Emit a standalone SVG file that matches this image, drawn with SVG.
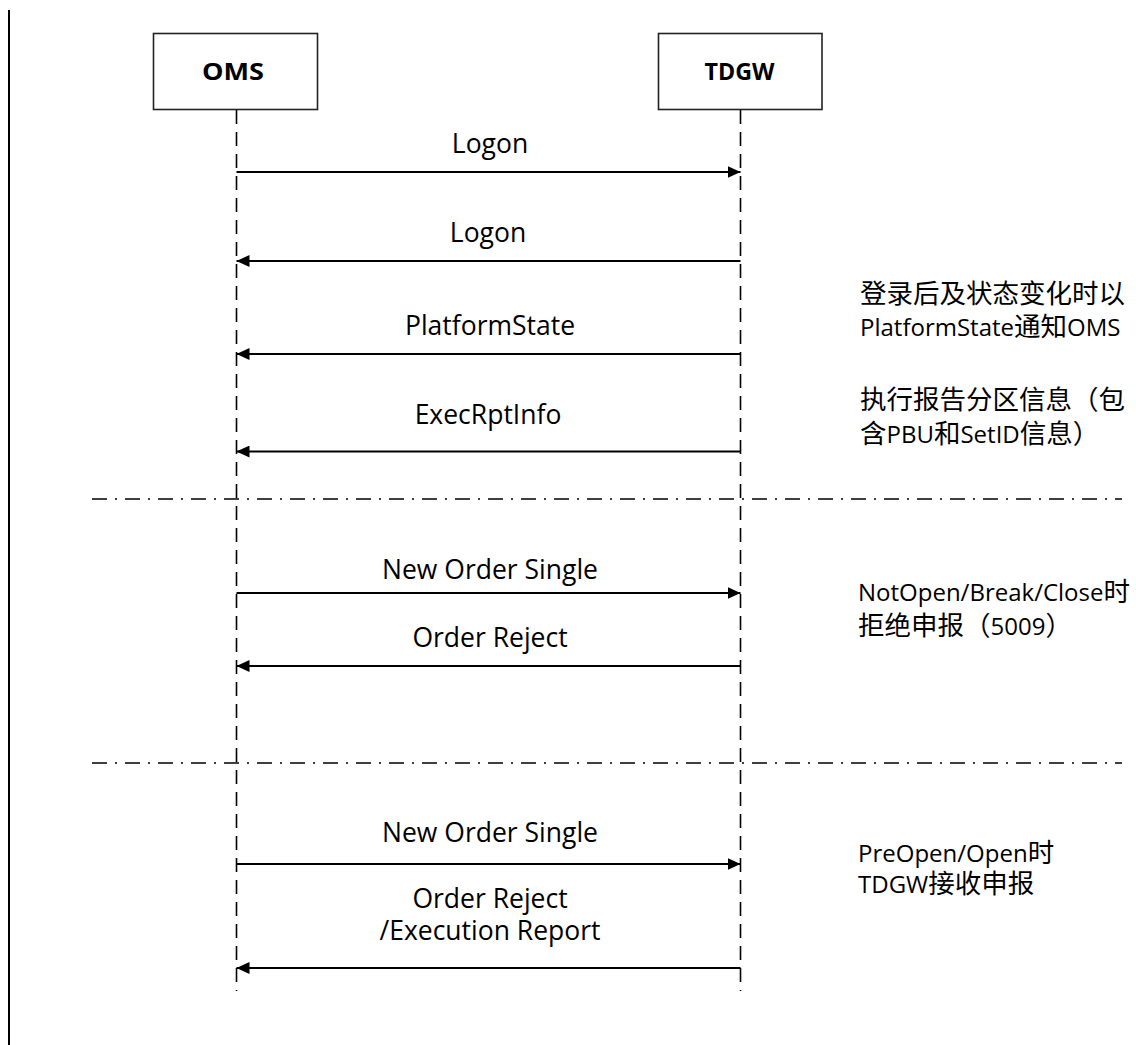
<svg xmlns="http://www.w3.org/2000/svg" width="1136" height="1045" viewBox="0 0 1136 1045">
<style>
.box{fill:#fff;stroke:#222;stroke-width:1.6}
.title{font-family:"Open Sans","Liberation Sans",sans-serif;font-weight:bold;font-size:23px;fill:#000;text-anchor:middle}
.life{stroke:#000;stroke-width:1.6;stroke-dasharray:14 8;fill:none}
.sep{stroke:#000;stroke-width:1.6;stroke-dasharray:15 8 2 8;fill:none}
.msg{stroke:#000;stroke-width:2;fill:none;marker-end:url(#ah)}
.lbl{font-family:"Open Sans","Liberation Sans",sans-serif;font-size:26.5px;fill:#000;text-anchor:middle}
.note{font-family:"Open Sans","Noto Sans CJK SC",sans-serif;font-size:24px;fill:#000}
.cjk{font-family:"Noto Sans CJK SC",sans-serif;font-size:26.5px}
</style>
<defs>
<marker id="ah" markerUnits="userSpaceOnUse" markerWidth="13" markerHeight="12" refX="13" refY="6" orient="auto">
<path d="M0,0 L13,6 L0,12 z" fill="#000"/>
</marker>
</defs>
<line x1="9" y1="10" x2="9" y2="1045" stroke="#000" stroke-width="2"/>
<g id="lifelines">
<line class="life" x1="236.5" y1="110" x2="236.5" y2="991"/>
<line class="life" x1="740.5" y1="110" x2="740.5" y2="991"/>
</g>
<g id="node-oms">
<rect class="box" x="153.5" y="33.5" width="164" height="76"/>
<text class="title" x="233" y="80" textLength="62" lengthAdjust="spacingAndGlyphs">OMS</text>
</g>
<g id="node-tdgw">
<rect class="box" x="658.5" y="33.5" width="163.5" height="76"/>
<text class="title" x="739.5" y="80" textLength="70" lengthAdjust="spacingAndGlyphs">TDGW</text>
</g>
<g id="separators">
<line class="sep" x1="92" y1="499" x2="1122" y2="499"/>
<line class="sep" x1="92" y1="763" x2="1122" y2="763"/>
</g>
<g id="connectors">
<line class="msg" x1="236.5" y1="172" x2="740.5" y2="172"/>
<line class="msg" x1="740.5" y1="261" x2="236.5" y2="261"/>
<line class="msg" x1="740.5" y1="354" x2="236.5" y2="354"/>
<line class="msg" x1="740.5" y1="451.5" x2="236.5" y2="451.5"/>
<line class="msg" x1="236.5" y1="593" x2="740.5" y2="593"/>
<line class="msg" x1="740.5" y1="666" x2="236.5" y2="666"/>
<line class="msg" x1="236.5" y1="864" x2="740.5" y2="864"/>
<line class="msg" x1="740.5" y1="968" x2="236.5" y2="968"/>
</g>
<g id="labels">
<text class="lbl" x="490" y="153">Logon</text>
<text class="lbl" x="488" y="242">Logon</text>
<text class="lbl" x="490" y="335">PlatformState</text>
<text class="lbl" x="488" y="424">ExecRptInfo</text>
<text class="lbl" x="490" y="579">New Order Single</text>
<text class="lbl" x="490" y="647">Order Reject</text>
<text class="lbl" x="490" y="842">New Order Single</text>
<text class="lbl" x="490" y="908">Order Reject</text>
<text class="lbl" x="490" y="940">/Execution Report</text>
</g>
<g id="notes">
<text class="note" x="860" y="303"><tspan class="cjk">登录后及状态变化时以</tspan></text>
<text class="note" x="860" y="336">PlatformState<tspan class="cjk">通知</tspan>OMS</text>
<text class="note" x="860" y="409"><tspan class="cjk">执行报告分区信息（包</tspan></text>
<text class="note" x="860" y="443"><tspan class="cjk">含</tspan>PBU<tspan class="cjk">和</tspan>SetID<tspan class="cjk">信息）</tspan></text>
<text class="note" x="858" y="601">NotOpen/Break/Close<tspan class="cjk">时</tspan></text>
<text class="note" x="858" y="635"><tspan class="cjk">拒绝申报（</tspan>5009<tspan class="cjk">）</tspan></text>
<text class="note" x="858" y="862">PreOpen/Open<tspan class="cjk">时</tspan></text>
<text class="note" x="858" y="893">TDGW<tspan class="cjk">接收申报</tspan></text>
</g>
</svg>
